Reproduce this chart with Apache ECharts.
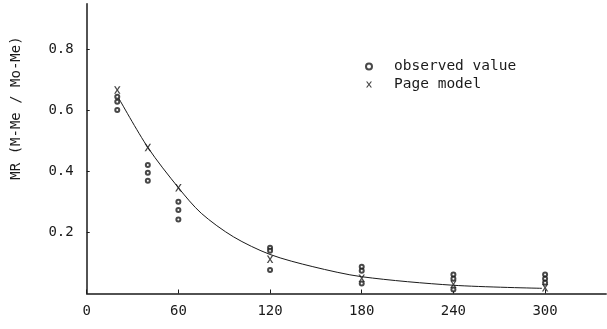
<!DOCTYPE html>
<html>
<head>
<meta charset="utf-8">
<script src="https://cdn.jsdelivr.net/npm/echarts@6/dist/echarts.min.js"></script>
<style>
html,body{margin:0;padding:0;background:#fff;}
#chart{width:607px;height:329px;}
</style>
</head>
<body>
<div id="chart"></div>
<script>
// observed values (drying time, MR)
var obsT  = [20, 20, 20, 40, 40, 40, 60, 60, 60, 120, 120, 120, 180, 180, 180, 240, 240, 240, 300, 300, 300];
var obsMR = [0.645, 0.629, 0.602, 0.421, 0.396, 0.370, 0.301, 0.274, 0.243, 0.150, 0.140, 0.077, 0.088, 0.075, 0.033, 0.062, 0.048, 0.013, 0.062, 0.048, 0.035];
// Page model points
var modelT  = [20, 40, 60, 120, 180, 240, 300];
var modelMR = [0.667, 0.479, 0.347, 0.112, 0.050, 0.030, 0.019];
// fitted curve
var curveT  = [21, 40, 60, 75, 96, 120, 148, 180, 240, 298];
var curveMR = [0.640, 0.479, 0.347, 0.263, 0.186, 0.128, 0.088, 0.055, 0.027, 0.017];
var xTicks = [0, 60, 120, 180, 240, 300];
var yTicks = [0.2, 0.4, 0.6, 0.8];

var font = 'DejaVu Sans Mono';
var ink = '#1a1a1a';
var xMark = 'path://M0,0L2.4,0L5,3.7L7.6,0L10,0L6.2,5L10,10L7.6,10L5,6.3L2.4,10L0,10L3.8,5Z';

function pairs(a, b){
	var r = [];
	for (var i = 0; i < a.length; i++) r.push([a[i], b[i]]);
	return r;
}

var myChart = echarts.init(document.getElementById('chart'));
var option = {
	animation: false,
	backgroundColor: '#fff',
	grid: {left: 86.7, right: 0.8, top: 3.75, bottom: 35.5, outerBoundsMode: 'none'},
	xAxis: {
		type: 'value', min: 0, max: 340,
		splitLine: {show: false},
		axisLine: {lineStyle: {color: ink, width: 1.5}},
		axisTick: {inside: true, length: 4, lineStyle: {color: ink}, customValues: xTicks},
		axisLabel: {
			margin: 11, color: ink, fontFamily: font, fontSize: 14,
			customValues: xTicks
		}
	},
	yAxis: {
		type: 'value', min: 0, max: 0.95,
		splitLine: {show: false},
		axisLine: {show: true, lineStyle: {color: ink, width: 1.5}},
		axisTick: {show: true, inside: true, length: 3, lineStyle: {color: ink}, customValues: yTicks},
		axisLabel: {
			margin: 13, color: ink, fontFamily: font, fontSize: 14,
			customValues: yTicks,
			formatter: function(v){ return v.toFixed(1); }
		}
	},
	legend: {
		orient: 'vertical', left: 360, top: 54,
		itemWidth: 40, itemHeight: 6, itemGap: 3,
		textStyle: {color: ink, fontFamily: font, fontSize: 14.5},
		data: ['observed value', 'Page model']
	},
	graphic: [{
		type: 'text', x: 16, y: 108, rotation: Math.PI / 2,
		style: {text: 'MR (M-Me / Mo-Me)', fill: ink, font: '14px "DejaVu Sans Mono"', align: 'center', verticalAlign: 'middle'}
	}],
	series: [
		{
			name: 'curve', type: 'line', smooth: 0.3, showSymbol: false, silent: true,
			lineStyle: {color: ink, width: 1},
			data: pairs(curveT, curveMR)
		},
		{
			name: 'observed value', type: 'scatter', symbol: 'emptyCircle', symbolSize: 4,
			itemStyle: {color: ink, borderColor: ink, borderWidth: 0.8},
			data: pairs(obsT, obsMR)
		},
		{
			name: 'Page model', type: 'scatter', symbol: xMark, symbolSize: [6.5, 7.5],
			itemStyle: {color: ink},
			data: pairs(modelT, modelMR)
		}
	]
};
myChart.setOption(option);
</script>
</body>
</html>
